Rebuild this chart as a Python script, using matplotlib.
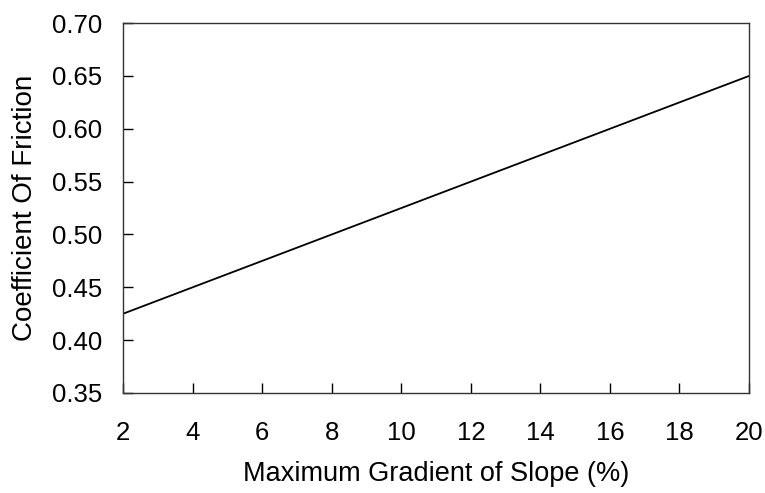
import matplotlib
matplotlib.use("Agg")
import matplotlib.pyplot as plt

# data
gradient = [2, 20]
friction = [0.425, 0.65]
x_ticks = [2, 4, 6, 8, 10, 12, 14, 16, 18, 20]
y_ticks = [0.35, 0.40, 0.45, 0.50, 0.55, 0.60, 0.65, 0.70]

plt.rcParams['font.family'] = ['Liberation Sans', 'DejaVu Sans']

fig = plt.figure(figsize=(7.65, 4.93), dpi=100)
ax = fig.add_axes([0.161, 0.203, 0.818, 0.750])

ax.plot(gradient, friction, color='black', linewidth=1.3)

ax.set_xlim(2, 20)
ax.set_ylim(0.35, 0.70)
ax.set_xticks(x_ticks)
ax.set_yticks(y_ticks)
ax.set_yticklabels([f"{v:.2f}" for v in y_ticks])

ax.tick_params(direction='in', length=7, width=1, labelsize=18.5, colors='black')
ax.tick_params(axis='x', pad=20)
ax.tick_params(axis='y', pad=15)
for s in ax.spines.values():
    s.set_linewidth(1)
    s.set_color('#333333')

ax.set_xlabel('Maximum Gradient of Slope (%)', fontsize=19.5, labelpad=12)
ax.set_ylabel('Coefficient Of Friction', fontsize=20, labelpad=10)

fig.savefig('out.png', dpi=100)
